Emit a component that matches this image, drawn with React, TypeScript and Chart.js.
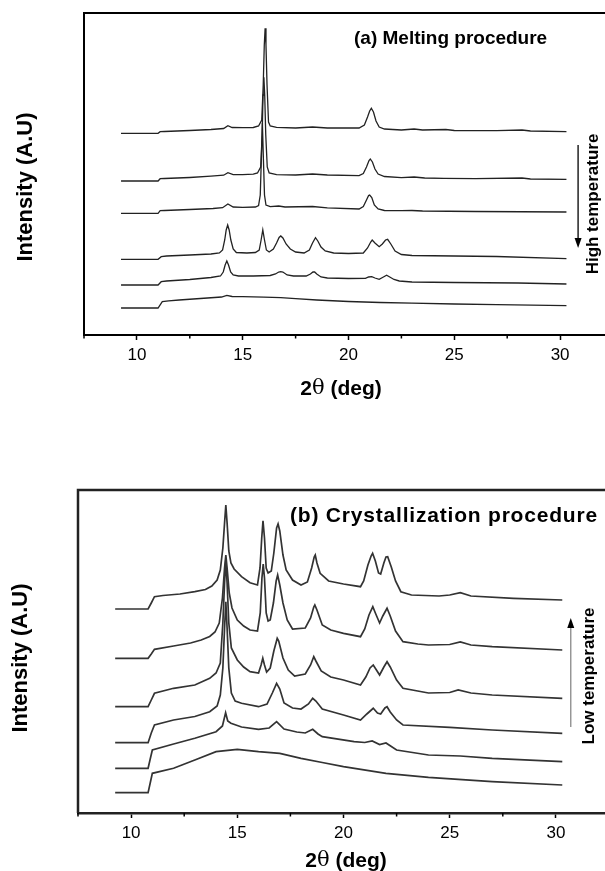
import React, { useEffect, useRef } from "react";
import { Chart, registerables } from "chart.js";
Chart.register(...registerables);

type Pt = [number, number];

// ---------- x axis ----------
const xMin = 7.5;
const xMax = 32.5;
const xStep = 2.5;

// ---------- (a) Melting procedure : six patterns, top to bottom ----------
const melt1: Pt[] = [[9.25,201.7],[11.0,201.7],[11.1,203.3],[11.3,203.5],[12.5,204.5],[13.5,205.5],[14.1,206.5],[14.3,209.3],[14.5,207.5],[15.0,207.3],[15.5,207.5],[15.75,209],[15.9,215],[15.97,250],[16.02,290],[16.06,306.7],[16.1,290],[16.15,250],[16.22,213],[16.3,209],[16.6,207.7],[17.5,207],[18.3,208],[19.0,207],[20.5,207],[20.75,210],[20.9,218],[21.0,224],[21.08,226.7],[21.18,223],[21.3,214],[21.45,208],[21.7,206],[22.5,205],[23.1,206],[23.5,205],[24.6,205.5],[25.0,204.5],[27,204.3],[28.2,205],[28.6,204],[30.3,203.3]];
const melt2: Pt[] = [[9.25,154],[11.0,154],[11.1,156.3],[11.3,156.5],[12.5,157.5],[13.5,158.8],[14.1,159.8],[14.3,162.3],[14.55,160.3],[15.0,160.3],[15.5,160.8],[15.7,162],[15.85,168],[15.92,200],[15.96,240],[16.0,257.7],[16.04,240],[16.09,200],[16.16,168],[16.25,162],[16.6,160.3],[17.5,160],[18.3,161],[19,160],[20.5,159.3],[20.7,161.5],[20.85,168],[20.97,174.5],[21.03,176],[21.13,173],[21.25,166],[21.4,161],[21.7,158.5],[22.5,157.3],[23.1,158],[23.6,157],[24.5,156.7],[26,156.3],[28.2,157],[28.6,156],[30.3,155.7]];
const melt3: Pt[] = [[9.25,121.7],[11.0,121.7],[11.1,124.3],[11.3,124.5],[12.5,125.5],[13.6,126.5],[14.05,127.3],[14.3,131],[14.55,128],[15.0,127.7],[15.6,128],[15.75,129.5],[15.83,140],[15.88,175],[15.93,212],[15.98,175],[16.03,140],[16.1,130],[16.3,128.3],[16.7,129],[17.0,128],[18.3,128.5],[19,127.2],[20.5,126],[20.7,128.5],[20.85,135],[20.95,139.5],[21.0,140],[21.1,137.5],[21.22,130],[21.4,126],[21.7,124.5],[22.5,124.3],[23,124.5],[23.5,124],[26,123.5],[30.3,123]];
const melt4: Pt[] = [[9.25,75.7],[11.0,75.7],[11.15,78.3],[11.4,79],[12.5,80],[13.5,81],[13.9,82],[14.05,85],[14.15,95],[14.22,105],[14.29,110],[14.36,105],[14.44,95],[14.55,86],[14.7,82.5],[15.2,82],[15.6,82.5],[15.78,85],[15.87,95],[15.95,105],[16.03,95],[16.12,85],[16.25,83],[16.45,86],[16.6,92],[16.72,97.5],[16.8,99],[16.9,97],[17.05,91],[17.25,86],[17.5,83],[17.9,82],[18.15,85],[18.3,92],[18.44,97.3],[18.55,94],[18.7,88],[18.9,84],[19.3,82],[20.0,81.5],[20.7,82],[20.9,87],[21.05,93],[21.12,95],[21.25,92],[21.45,88.3],[21.6,91],[21.75,95],[21.85,95.7],[22.0,91],[22.2,84],[22.5,80.5],[23.0,79.5],[25.0,79],[27,78.5],[30.3,76.3]];
const melt5: Pt[] = [[9.25,50],[11.0,50],[11.15,53.3],[11.4,54],[12.5,55.5],[13.5,57.5],[13.95,59],[14.08,63],[14.17,70],[14.25,74],[14.33,70],[14.43,63],[14.55,60],[14.8,59],[15.5,59],[16.3,59.5],[16.55,61],[16.7,63],[16.8,63.3],[16.9,63],[17.1,60],[17.4,59],[18.0,59],[18.2,61],[18.32,63],[18.4,63],[18.5,61],[18.7,58],[19.0,57],[20.0,56.5],[20.8,56.7],[20.95,58],[21.1,58.3],[21.25,57],[21.45,55.7],[21.65,58],[21.8,59.7],[21.95,58],[22.15,55.5],[22.4,54],[23.0,53],[25.0,52.5],[28,52],[30.3,51]];
const melt6: Pt[] = [[9.25,27],[11.0,27],[11.2,33.3],[11.5,34.2],[12,35],[13,36.5],[14.0,38],[14.25,39.7],[14.5,38.5],[15.0,38.3],[16.0,37.8],[16.8,37.3],[17.5,36.3],[18.5,35],[20.0,33.5],[21.5,32.5],[23,31.8],[25.0,31],[27,30.3],[30.3,29.3]];

// ---------- (b) Crystallization procedure : six patterns, top to bottom ----------
const cryst1: Pt[] = [[9.25,204],[10.8,204],[10.95,210],[11.1,216.3],[11.5,217.5],[12.3,219],[13.0,221.3],[13.5,223.5],[13.8,227],[14.05,233],[14.2,243],[14.32,265],[14.4,290],[14.46,308],[14.52,290],[14.6,262],[14.7,250],[14.85,244],[15.2,236.3],[15.6,230.3],[15.95,228],[16.07,245],[16.15,275],[16.21,292.3],[16.28,275],[16.36,245],[16.45,240],[16.6,242],[16.72,260],[16.85,285],[16.92,289],[17.0,282],[17.15,258],[17.3,243],[17.6,233],[18.0,228],[18.3,231],[18.5,245],[18.62,256],[18.67,258],[18.75,250],[18.9,239.7],[19.3,232],[20.0,229],[20.8,226.3],[20.95,232],[21.15,248],[21.3,257],[21.37,259.7],[21.5,252],[21.65,240],[21.75,239],[21.9,250],[22.0,256],[22.08,256.3],[22.25,246],[22.45,232],[22.7,221.3],[23.2,218],[24.5,217],[25.0,218],[25.5,220.3],[26.0,217],[28,214.7],[30.3,213]];
const cryst2: Pt[] = [[9.25,154.7],[10.8,154.7],[10.95,159],[11.1,163.7],[12,167],[12.8,170],[13.3,173],[13.7,176.5],[13.95,181],[14.15,190],[14.3,215],[14.4,245],[14.46,258],[14.52,245],[14.62,220],[14.75,205],[15.0,193],[15.3,187],[15.6,183],[15.95,182],[16.08,200],[16.16,235],[16.22,249],[16.28,235],[16.36,200],[16.45,192],[16.55,193],[16.7,210],[16.83,232],[16.9,238],[17.0,228],[17.15,210],[17.35,193],[17.6,184],[18.2,185],[18.45,195],[18.6,206],[18.65,208],[18.75,203],[19.0,188],[19.4,183],[20.0,179.7],[20.8,176.3],[21.0,184],[21.2,198],[21.38,206.3],[21.5,200],[21.7,190],[21.85,197],[22.05,204.7],[22.2,197],[22.45,182],[22.8,171.3],[23.5,169],[24,168],[25.0,168.5],[25.5,171],[26,168],[27,166.3],[30.3,163]];
const cryst3: Pt[] = [[9.25,106.3],[10.8,106.3],[10.95,113],[11.1,119.7],[12,124.7],[13,128],[13.7,134.7],[14.0,140],[14.2,150],[14.32,190],[14.4,230],[14.46,253],[14.52,230],[14.6,190],[14.72,165],[15.0,153],[15.3,146],[15.6,141.3],[16.0,140],[16.12,148],[16.2,154.7],[16.28,148],[16.38,141],[16.55,145],[16.72,162],[16.88,174.7],[16.95,172],[17.15,155],[17.4,143],[17.7,137],[18.2,139],[18.45,148],[18.6,156.3],[18.7,152],[18.95,142],[19.4,136],[20.0,133],[20.8,128],[21.05,136],[21.25,145],[21.4,148],[21.55,143],[21.7,138],[21.9,146],[22.05,151.3],[22.2,146],[22.5,133],[22.8,124.7],[24.0,120],[25.0,120.5],[25.4,123],[26,120],[27,118],[30.3,114.7]];
const cryst4: Pt[] = [[9.25,70.3],[10.8,70.3],[10.95,80],[11.1,88],[12,93],[13,96.5],[13.7,101.3],[14.05,107],[14.2,118],[14.32,145],[14.4,185],[14.46,211.3],[14.52,185],[14.6,145],[14.72,120],[14.9,112],[15.2,109.7],[16.0,106.3],[16.4,109],[16.65,120],[16.85,129.7],[17.0,124],[17.2,110],[17.6,105],[18.0,104],[18.35,109],[18.55,114.7],[18.7,112],[19.0,104],[20.0,98],[20.8,93],[21.1,99],[21.4,104.7],[21.6,100],[21.75,99],[21.95,105],[22.05,106.3],[22.2,101],[22.5,93],[22.8,88],[25.0,85.7],[27,83],[30.3,79.7]];
const cryst5: Pt[] = [[9.25,44.7],[10.8,44.7],[10.9,54],[11.0,63],[12,69],[13,74.7],[14.0,81.3],[14.3,87],[14.45,100.3],[14.55,92],[14.7,89.7],[15.2,86],[16.0,83.7],[16.5,85],[16.85,91.3],[17.2,84],[17.8,81],[18.2,80],[18.55,83.7],[18.8,79],[19.0,76.3],[20.5,71.3],[21.0,70.5],[21.35,72],[21.7,68.5],[22.0,70],[22.5,63],[24.0,58],[25.5,57],[27,54.7],[30.3,51.3]];
const cryst6: Pt[] = [[9.25,20.3],[10.8,20.3],[10.9,30],[11.0,39.7],[12,44.7],[13,53],[14.0,61.3],[15.0,63.7],[16.0,61.3],[17.0,59.7],[18.0,54.7],[19.0,50.5],[20.0,46.3],[22.0,39.7],[24,35.7],[27,31.3],[30.3,28]];

const meltSeries = [melt1, melt2, melt3, melt4, melt5, melt6];
const crystSeries = [cryst1, cryst2, cryst3, cryst4, cryst5, cryst6];

const FONT = "'Liberation Sans', Arial, sans-serif";

type TextItem = { text: string; x: number; y: number; size: number; rotate?: boolean; spacing?: number; align?: CanvasTextAlign };
type PanelCfg = {
  series: Pt[][];
  height: number;
  top: number;
  area: { left: number; top: number; right: number; bottom: number };
  yMax: number;
  frameWidth: number;
  frameColor: string;
  lineColor: string;
  lineWidth: number;
  texts: TextItem[];
  xTitle: { x: number; y: number };
  arrow: { x: number; from: number; to: number; shaftColor: string };
};

const CANVAS_W = 640;

function drawXTitle(ctx: CanvasRenderingContext2D, cx: number, cy: number) {
  const parts: [string, string][] = [
    ["2", `bold 21px ${FONT}`],
    ["\u03B8", `21px 'DejaVu Serif', serif`],
    [" (deg)", `bold 21px ${FONT}`],
  ];
  let total = 0;
  const widths = parts.map(([t, f]) => { ctx.font = f; const w = ctx.measureText(t).width; total += w; return w; });
  let x = cx - total / 2;
  ctx.textBaseline = "middle";
  ctx.textAlign = "left";
  parts.forEach(([t, f], i) => { ctx.font = f; ctx.fillText(t, x, cy); x += widths[i]; });
}

function makePlugin(cfg: PanelCfg) {
  return {
    id: "decor",
    afterDraw(chart: any) {
      const { ctx, chartArea } = chart;
      const xs = chart.scales.x;
      const ys = chart.scales.y;
      ctx.save();
      // frame (top, left, right)
      ctx.strokeStyle = cfg.frameColor;
      ctx.lineWidth = cfg.frameWidth;
      ctx.beginPath();
      ctx.moveTo(chartArea.left, chartArea.bottom);
      ctx.lineTo(chartArea.left, chartArea.top);
      ctx.lineTo(chartArea.right, chartArea.top);
      ctx.lineTo(chartArea.right, chartArea.bottom);
      ctx.stroke();
      // minor ticks
      ctx.lineWidth = 1.5;
      ctx.strokeStyle = "#000";
      xs.ticks.forEach((t: any) => {
        if (t.value % 5 !== 0) {
          const px = xs.getPixelForValue(t.value);
          ctx.beginPath();
          ctx.moveTo(px, chartArea.bottom);
          ctx.lineTo(px, chartArea.bottom + 3.5);
          ctx.stroke();
        }
      });
      // texts
      ctx.fillStyle = "#000";
      cfg.texts.forEach((t) => {
        ctx.save();
        ctx.font = `bold ${t.size}px ${FONT}`;
        (ctx as any).letterSpacing = `${t.spacing || 0}px`;
        ctx.textBaseline = "middle";
        ctx.textAlign = t.align || "center";
        ctx.translate(t.x, t.y);
        if (t.rotate) ctx.rotate(-Math.PI / 2);
        ctx.fillText(t.text, 0, 0);
        ctx.restore();
      });
      drawXTitle(ctx, cfg.xTitle.x, cfg.xTitle.y);
      // arrow
      const ax = xs.getPixelForValue(cfg.arrow.x);
      const y0 = ys.getPixelForValue(cfg.arrow.from);
      const y1 = ys.getPixelForValue(cfg.arrow.to);
      const dir = Math.sign(y1 - y0);
      ctx.strokeStyle = cfg.arrow.shaftColor;
      ctx.lineWidth = 1.3;
      ctx.beginPath();
      ctx.moveTo(ax, y0);
      ctx.lineTo(ax, y1 - dir * 8);
      ctx.stroke();
      ctx.fillStyle = "#000";
      ctx.beginPath();
      ctx.moveTo(ax, y1);
      ctx.lineTo(ax - 3.5, y1 - dir * 10);
      ctx.lineTo(ax + 3.5, y1 - dir * 10);
      ctx.closePath();
      ctx.fill();
      ctx.restore();
    },
  };
}

function Panel({ cfg }: { cfg: PanelCfg }) {
  const ref = useRef<HTMLCanvasElement>(null);
  useEffect(() => {
    const canvas = ref.current!;
    const chart = new Chart(canvas, {
      type: "line",
      data: {
        datasets: cfg.series.map((s, i) => ({
          label: `pattern ${i + 1}`,
          data: s as any,
          borderColor: cfg.lineColor,
          borderWidth: cfg.lineWidth,
          pointRadius: 0,
          tension: 0,
          fill: false,
        })),
      },
      options: {
        animation: false,
        responsive: false,
        events: [],
        layout: {
          padding: {
            left: cfg.area.left,
            top: cfg.area.top,
            right: CANVAS_W - cfg.area.right,
            bottom: 0,
          },
        },
        plugins: { legend: { display: false }, tooltip: { enabled: false }, title: { display: false } },
        scales: {
          x: {
            type: "linear",
            min: xMin,
            max: xMax,
            afterFit: (scale: any) => { scale.height = cfg.height - cfg.area.bottom; },
            ticks: {
              stepSize: xStep,
              autoSkip: false,
              maxRotation: 0,
              padding: 5,
              color: "#000",
              font: { family: FONT, size: 17 },
              callback: (v: any) => (Number(v) % 5 === 0 ? String(v) : ""),
            },
            grid: {
              drawOnChartArea: false,
              drawTicks: true,
              tickLength: 5,
              tickWidth: 1.5,
              tickColor: (c: any) => (c.tick && c.tick.value % 5 === 0 ? "#000" : "rgba(0,0,0,0)"),
            },
            border: { display: true, color: cfg.frameColor, width: cfg.frameWidth },
          },
          y: { type: "linear", display: false, min: 0, max: cfg.yMax },
        },
      },
      plugins: [makePlugin(cfg)],
    } as any);
    return () => chart.destroy();
  }, []);
  return (
    <canvas
      ref={ref}
      width={CANVAS_W}
      height={cfg.height}
      style={{ position: "absolute", left: 0, top: cfg.top, width: CANVAS_W, height: cfg.height, display: "block" }}
    />
  );
}

const topCfg: PanelCfg = {
  series: meltSeries,
  height: 435,
  top: 0,
  area: { left: 84, top: 13, right: 613, bottom: 335 },
  yMax: 322,
  frameWidth: 2,
  frameColor: "#000",
  lineColor: "#222",
  lineWidth: 1.3,
  texts: [
    { text: "(a) Melting procedure", x: 354, y: 39, size: 19, align: "left" },
    { text: "Intensity (A.U)", x: 26, y: 187, size: 22, rotate: true },
    { text: "High temperature", x: 593, y: 204, size: 17, rotate: true },
  ],
  xTitle: { x: 341, y: 389 },
  arrow: { x: 30.85, from: 190, to: 87, shaftColor: "#000" },
};

const bottomCfg: PanelCfg = {
  series: crystSeries,
  height: 436,
  top: 435,
  area: { left: 78, top: 55, right: 609, bottom: 378 },
  yMax: 323,
  frameWidth: 2.5,
  frameColor: "#222",
  lineColor: "#333",
  lineWidth: 1.7,
  texts: [
    { text: "(b) Crystallization procedure", x: 290, y: 81, size: 21, align: "left", spacing: 0.8 },
    { text: "Intensity (A.U)", x: 21, y: 223, size: 22, rotate: true },
    { text: "Low temperature", x: 589, y: 241, size: 17, rotate: true },
  ],
  xTitle: { x: 346, y: 426 },
  arrow: { x: 30.7, from: 86, to: 195, shaftColor: "#888" },
};

export default function App() {
  return (
    <div style={{ position: "fixed", left: 0, top: 0, width: 605, height: 871, overflow: "hidden", background: "#fff" }}>
      <Panel cfg={topCfg} />
      <Panel cfg={bottomCfg} />
    </div>
  );
}
